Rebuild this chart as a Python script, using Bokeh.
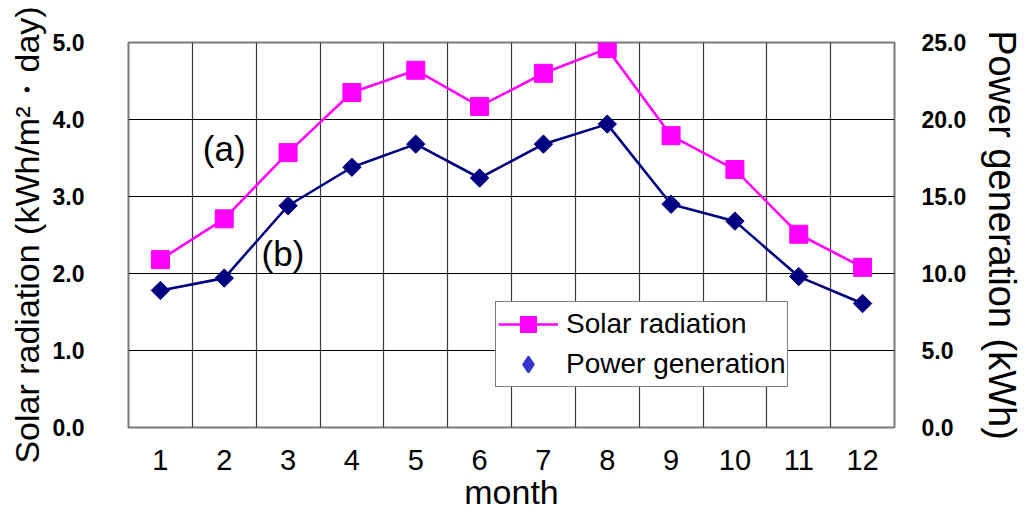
from bokeh.plotting import figure
from bokeh.models import (Range1d, LinearAxis, FixedTicker, NumeralTickFormatter,
                          Label, Legend, LegendItem)
from bokeh.embed import file_html
from bokeh.resources import INLINE
import math

months = [1, 2, 3, 4, 5, 6, 7, 8, 9, 10, 11, 12]
month_labels = ["1", "2", "3", "4", "5", "6", "7", "8", "9", "10", "11", "12"]
solar_radiation = [2.18, 2.71, 3.57, 4.35, 4.64, 4.17, 4.60, 4.92, 3.79, 3.35, 2.51, 2.08]
power_generation = [8.9, 9.7, 14.4, 16.9, 18.4, 16.2, 18.4, 19.7, 14.5, 13.4, 9.8, 8.05]
left_ticks = [0, 1, 2, 3, 4, 5]
right_ticks = [0, 5, 10, 15, 20, 25]

FONT = "Liberation Sans"

p = figure(width=1026, height=515, output_backend="svg", toolbar_location=None,
           x_range=Range1d(0.5, 12.5), y_range=Range1d(0, 5),
           min_border_left=128, min_border_right=130, min_border_top=42, min_border_bottom=88)
p.extra_y_ranges = {"power": Range1d(0, 25)}

p.outline_line_color = "#7a7a7a"
p.outline_line_width = 2

# x axis
xa = p.xaxis[0]
xa.ticker = FixedTicker(ticks=months)
xa.major_label_overrides = {m: l for m, l in zip(months, month_labels)}
xa.axis_label = "month"
xa.axis_label_text_font = FONT
xa.axis_label_text_font_size = "34px"
xa.axis_label_text_font_style = "normal"
xa.axis_label_text_color = "black"
xa.axis_label_standoff = 0
xa.major_label_text_font = FONT
xa.major_label_text_font_size = "29px"
xa.major_label_text_color = "black"
xa.major_label_standoff = 16
xa.axis_line_color = None
xa.major_tick_line_color = None
xa.minor_tick_line_color = None

# left axis
ya = p.yaxis[0]
ya.ticker = FixedTicker(ticks=left_ticks)
ya.formatter = NumeralTickFormatter(format="0.0")
ya.axis_label = "Solar radiation (kWh/m\u00b2\u30fbday)"
ya.axis_label_text_font = FONT
ya.axis_label_text_font_size = "34px"
ya.axis_label_text_font_style = "normal"
ya.axis_label_text_color = "black"
ya.axis_label_standoff = 4
ya.major_label_text_font = FONT
ya.major_label_text_font_style = "bold"
ya.major_label_text_font_size = "23px"
ya.major_label_text_color = "black"
ya.major_label_standoff = 38
ya.axis_line_color = None
ya.major_tick_line_color = None
ya.minor_tick_line_color = None

# right axis
ra = LinearAxis(y_range_name="power", ticker=FixedTicker(ticks=right_ticks),
                formatter=NumeralTickFormatter(format="0.0"))
ra.axis_label = "Power generation (kWh)"
ra.axis_label_text_font = FONT
ra.axis_label_text_font_size = "38px"
ra.axis_label_text_font_style = "normal"
ra.axis_label_text_color = "black"
ra.axis_label_standoff = 12
ra.major_label_text_font = FONT
ra.major_label_text_font_style = "bold"
ra.major_label_text_font_size = "23px"
ra.major_label_text_color = "black"
ra.major_label_standoff = 21
ra.axis_line_color = None
ra.major_tick_line_color = None
ra.minor_tick_line_color = None
p.add_layout(ra, "right")

# grids
p.xgrid.ticker = FixedTicker(ticks=[m + 0.5 for m in months[:-1]])
p.xgrid.grid_line_color = "#3a3a3a"
p.xgrid.grid_line_width = 1.2
p.ygrid.ticker = FixedTicker(ticks=left_ticks[1:-1])
p.ygrid.grid_line_color = "black"
p.ygrid.grid_line_width = 1.2

# series
sr_line = p.line(months, solar_radiation, line_color="#ff00ff", line_width=2.6)
sr_pts = p.scatter(months, solar_radiation, marker="square", size=18,
                   fill_color="#ff00ff", line_color="#ff00ff")
pg_line = p.line(months, power_generation, line_color="#000080", line_width=2.6,
                 y_range_name="power")
pg_pts = p.scatter(months, power_generation, marker="square", angle=math.pi / 4, size=13,
                   fill_color="#000080", line_color="#000080", y_range_name="power")
# hidden legend proxy (same data) for the lighter legend diamond
pg_proxy = p.scatter(months, power_generation, marker="diamond", size=18,
                     fill_color="#3535cc", line_color="#3535cc", line_width=2,
                     y_range_name="power", visible=False)

legend = Legend(items=[LegendItem(label="Solar radiation", renderers=[sr_line, sr_pts]),
                       LegendItem(label="Power generation", renderers=[pg_proxy])],
                location=(367, 40))
legend.label_text_font = FONT
legend.label_text_font_size = "28px"
legend.label_text_color = "black"
legend.glyph_width = 60
legend.glyph_height = 40
legend.label_height = 28
legend.label_standoff = 8
legend.spacing = 0
legend.padding = 2
legend.margin = 0
legend.border_line_color = "black"
legend.border_line_width = 1.5
legend.background_fill_alpha = 1
p.add_layout(legend, "center")

# annotations
p.add_layout(Label(x=2.0, y=3.62, text="(a)", text_font=FONT, text_font_size="35px",
                   text_color="black", text_align="center", text_baseline="middle"))
p.add_layout(Label(x=2.92, y=2.26, text="(b)", text_font=FONT, text_font_size="35px",
                   text_color="black", text_align="center", text_baseline="middle"))

open("out.html", "w").write(file_html(p, INLINE))
